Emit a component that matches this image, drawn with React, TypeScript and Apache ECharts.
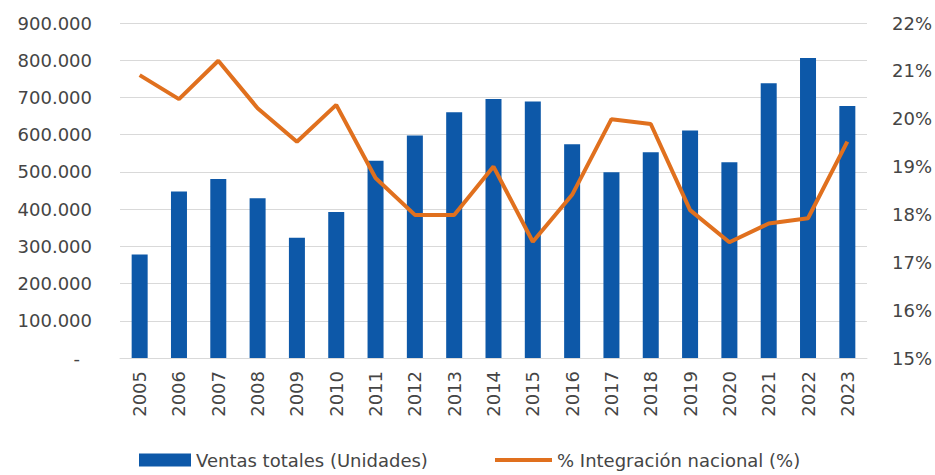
import React, { useEffect, useRef } from "react";
import * as echarts from "echarts";

const years = ["2005","2006","2007","2008","2009","2010","2011","2012","2013","2014","2015","2016","2017","2018","2019","2020","2021","2022","2023"];
const ventas = [278000,447000,481000,429000,323000,392000,530000,598000,660000,696000,689000,574000,499000,553000,611000,526000,738000,806000,677000];
const integracion = [20.91,20.41,21.21,20.22,19.52,20.29,18.76,17.99,17.99,19.0,17.43,18.41,19.99,19.89,18.09,17.42,17.81,17.92,19.52];
const leftTicks = { min: 0, max: 900000, interval: 100000 };
const rightTicks = { min: 15, max: 22, interval: 1 };

const FONT = "DejaVu Sans";
const TEXT = "#454545";
const BLUE = "#0D58A8";
const ORANGE = "#E0701E";

function fmtThousands(v: number): string {
  return String(Math.round(v)).replace(/\B(?=(\d{3})+(?!\d))/g, ".");
}

export default function App() {
  const ref = useRef<HTMLDivElement>(null);
  useEffect(() => {
    if (!ref.current) return;
    const chart = echarts.init(ref.current, null, { renderer: "svg" });
    chart.setOption({
      animation: false,
      backgroundColor: "#ffffff",
      grid: { left: 120, right: 67, top: 23, bottom: 117, containLabel: false },
      legend: [
        {
          left: 134, top: 446, itemWidth: 52, itemHeight: 13,
          data: [{ name: "Ventas totales (Unidades)", icon: "rect" }],
          textStyle: { fontFamily: FONT, fontSize: 18, color: TEXT },
        },
        {
          left: 490, top: 446, itemWidth: 57, itemHeight: 4,
          data: [{ name: "% Integración nacional (%)", icon: "rect" }],
          textStyle: { fontFamily: FONT, fontSize: 18, color: TEXT },
        },
      ],
      xAxis: {
        type: "category",
        data: years,
        axisLine: { lineStyle: { color: "#d9d9d9" } },
        axisTick: { show: false },
        axisLabel: { interval: 0, rotate: 90, margin: 13, fontFamily: FONT, fontSize: 18, color: TEXT },
      },
      yAxis: [
        {
          type: "value",
          min: leftTicks.min, max: leftTicks.max, interval: leftTicks.interval,
          axisLine: { show: false },
          axisTick: { show: false },
          splitLine: { lineStyle: { color: "#d9d9d9", width: 1 } },
          axisLabel: {
            margin: 28, fontFamily: FONT, fontSize: 18, color: TEXT,
            formatter: (v: number) => (v === 0 ? "{d|-}" : fmtThousands(v)),
            rich: { d: { fontFamily: FONT, fontSize: 18, color: TEXT, padding: [0, 12, 0, 0] } },
          },
        },
        {
          type: "value",
          min: rightTicks.min, max: rightTicks.max, interval: rightTicks.interval,
          position: "right",
          axisLine: { show: false },
          axisTick: { show: false },
          splitLine: { show: false },
          axisLabel: { margin: 25, fontFamily: FONT, fontSize: 18, color: TEXT, formatter: (v: number) => `${v}%` },
        },
      ],
      series: [
        {
          name: "Ventas totales (Unidades)",
          type: "bar",
          data: ventas,
          barWidth: 16,
          itemStyle: { color: BLUE },
          yAxisIndex: 0,
        },
        {
          name: "% Integración nacional (%)",
          type: "line",
          data: integracion,
          yAxisIndex: 1,
          symbol: "none",
          lineStyle: { color: ORANGE, width: 4 },
          itemStyle: { color: ORANGE },
        },
      ],
    });
    return () => chart.dispose();
  }, []);
  return <div ref={ref} style={{ position: "absolute", left: 0, top: 0, width: 935, height: 475 }} />;
}
